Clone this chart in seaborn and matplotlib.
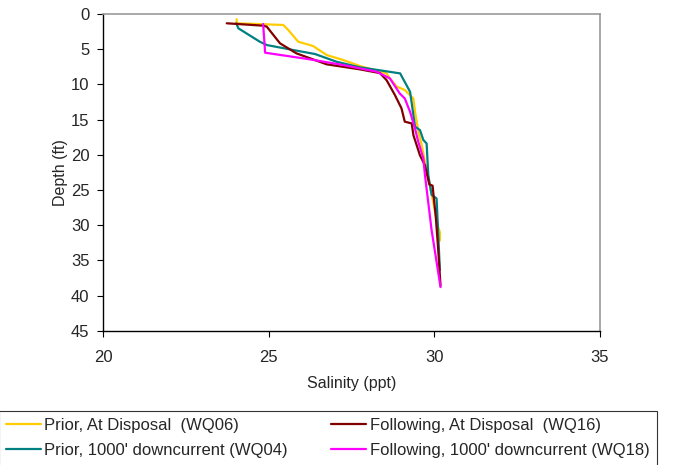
import matplotlib
matplotlib.use("Agg")
import matplotlib.pyplot as plt
import seaborn as sns
import pandas as pd

# Salinity (ppt) vs depth (ft) profiles
wq06_sal = [24.03, 24.03, 25.44, 25.59, 25.89, 26.34, 26.75, 27.25, 27.76, 28.56, 28.66,
            28.86, 29.11, 29.37, 29.42, 29.52, 29.62, 29.72, 29.96, 30.12, 30.17, 30.17]
wq06_dep = [0.75, 1.32, 1.56, 2.28, 3.94, 4.55, 5.83, 6.54, 7.40, 8.44, 9.15,
            10.3, 10.8, 12.0, 13.9, 16.7, 18.6, 21.0, 26.5, 30.3, 31.0, 32.2]

wq16_sal = [23.73, 24.83, 24.94, 25.34, 25.84, 26.75, 27.76, 28.36, 28.56, 28.81, 29.01,
            29.11, 29.32, 29.37, 29.57, 29.72, 29.85, 29.95, 30.05, 30.12, 30.19]
wq16_dep = [1.32, 1.66, 1.80, 4.17, 5.60, 7.15, 7.87, 8.40, 9.40, 11.5, 13.4,
            15.3, 15.55, 17.2, 20.1, 21.5, 24.2, 24.4, 29.0, 33.5, 38.6]

wq04_sal = [24.02, 24.08, 24.73, 24.94, 25.74, 26.40, 27.05, 27.76, 28.97, 29.27, 29.42,
            29.57, 29.67, 29.77, 29.82, 29.92, 30.07, 30.12, 30.17]
wq04_dep = [1.32, 2.03, 3.94, 4.41, 5.12, 5.69, 6.79, 7.58, 8.44, 11.05, 16.0,
            16.5, 17.9, 18.4, 22.9, 25.7, 26.2, 31.2, 36.4]

wq18_sal = [24.83, 24.89, 26.24, 27.25, 28.26, 28.66, 28.96, 29.11, 29.27, 29.42, 29.52,
            29.67, 29.72, 29.92, 30.19]
wq18_dep = [1.42, 5.50, 6.44, 7.25, 8.20, 9.15, 11.3, 12.0, 13.9, 16.3, 18.2,
            20.5, 22.9, 30.7, 38.8]

labels = ["Prior, At Disposal  (WQ06)", "Prior, 1000' downcurrent (WQ04)",
          "Following, At Disposal  (WQ16)", "Following, 1000' downcurrent (WQ18)"]
colors = ["#FFCC00", "#008080", "#800000", "#FF00FF"]

x_ticks = [20, 25, 30, 35]
y_ticks = [0, 5, 10, 15, 20, 25, 30, 35, 40, 45]

series = {
    labels[0]: (wq06_sal, wq06_dep),
    labels[1]: (wq04_sal, wq04_dep),
    labels[2]: (wq16_sal, wq16_dep),
    labels[3]: (wq18_sal, wq18_dep),
}
frames = []
for name, (s, d) in series.items():
    frames.append(pd.DataFrame({"Salinity": s, "Depth": d, "Series": name}))
df = pd.concat(frames, ignore_index=True)

sns.set_style("white")
plt.rcParams["font.family"] = ["Liberation Sans", "DejaVu Sans"]

fig = plt.figure(figsize=(6.78, 4.65), dpi=100)
ax = fig.add_axes([103.3 / 678, 1 - 330.7 / 465, (599.7 - 103.3) / 678, (330.7 - 14) / 465])

sns.lineplot(data=df, x="Salinity", y="Depth", hue="Series", hue_order=labels,
             palette=dict(zip(labels, colors)), sort=False, estimator=None,
             linewidth=1.6, ax=ax, legend=False)

ax.set_xlim(20, 35)
ax.set_ylim(45, 0)
ax.set_xticks(x_ticks)
ax.set_yticks(y_ticks)
ax.tick_params(axis="both", direction="out", length=4, width=0.8, color="black",
               labelsize=12, bottom=True, left=True)
ax.tick_params(axis="x", pad=10)
ax.tick_params(axis="y", pad=6)
ax.set_xlabel("Salinity (ppt)", fontsize=11.5, labelpad=8)
ax.set_ylabel("Depth (ft)", fontsize=11.5, labelpad=2)

for side in ["left", "bottom"]:
    ax.spines[side].set_color("black")
    ax.spines[side].set_linewidth(1.0)
for side in ["top", "right"]:
    ax.spines[side].set_color("#999999")
    ax.spines[side].set_linewidth(1.2)

handles = [plt.Line2D([], [], color=c, linewidth=1.6) for c in colors]
leg = fig.legend(handles, labels, ncol=2, loc="upper left",
                 bbox_to_anchor=(-0.002, 1 - 410.5 / 465), frameon=True, fancybox=False,
                 edgecolor="black", fontsize=12.0, handlelength=2.1, handletextpad=0.2,
                 columnspacing=2.6, labelspacing=0.6, borderpad=0.45, borderaxespad=0)
leg.get_frame().set_linewidth(0.8)

fig.savefig("out.png", dpi=100, facecolor="white")
